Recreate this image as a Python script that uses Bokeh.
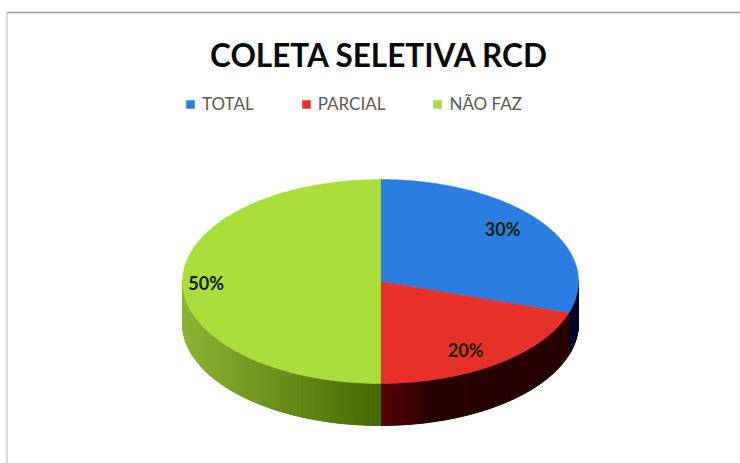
import numpy as np
from bokeh.plotting import figure
from bokeh.models import Range1d, Legend, LegendItem
from bokeh.core.properties import value
from bokeh.embed import file_html
from bokeh.resources import INLINE

title = "COLETA SELETIVA RCD"
categories = ["TOTAL", "PARCIAL", "NÃO FAZ"]
shares = [30, 20, 50]
top_colors = ["#2b7de1", "#e8302a", "#aade3c"]

W, H = 740, 463
CX, CY, RX, RY, DEPTH = 380, 281, 198, 102, 42
label_offsets = [(-6, -5), (-8, 2), (-16, 1)]


def lerp(stops, t):
    xs = [s[0] for s in stops]
    return "#%02x%02x%02x" % tuple(int(round(np.interp(t, xs, [s[1][i] for s in stops]))) for i in range(3))


wall_stops = [
    [(0, (0, 8, 60)), (1, (0, 4, 40))],
    [(0, (88, 0, 0)), (0.25, (40, 0, 0)), (1, (40, 0, 0))],
    [(0, (70, 104, 0)), (1, (140, 180, 52))],
]

p = figure(width=W, height=H, output_backend="svg", toolbar_location=None,
           x_range=Range1d(0, W), y_range=Range1d(H, 0),
           min_border=0, outline_line_color=None, x_axis_type=None, y_axis_type=None)
p.grid.visible = False

edges = np.cumsum([0] + shares) / sum(shares) * 360.0


def ex(a):
    return CX + RX * np.sin(np.radians(a))


def ey(a):
    return CY - RY * np.cos(np.radians(a))


# side wall
for i in range(len(shares)):
    a0, a1 = max(edges[i], 90), min(edges[i + 1], 270)
    if a1 <= a0:
        continue
    grid = np.arange(a0, a1 + 0.01, 1.0)
    xs, ys, cols = [], [], []
    for u, v in zip(grid[:-1], grid[1:]):
        xs.append([ex(u), ex(v), ex(v), ex(u)])
        ys.append([ey(u), ey(v), ey(v) + DEPTH, ey(u) + DEPTH])
        t = abs((ex(u) + ex(v)) / 2 - CX) / RX
        cols.append(lerp(wall_stops[i], t))
    p.patches(xs, ys, fill_color=cols, line_color=cols, line_width=1)

# top faces
items = []
for i, name in enumerate(categories):
    arc = np.linspace(edges[i], edges[i + 1], 181)
    xs = [CX] + list(ex(arc))
    ys = [CY] + list(ey(arc))
    r = p.patch(xs, ys, fill_color=top_colors[i], line_color=top_colors[i], line_width=0.5)
    items.append(LegendItem(label=name, renderers=[r]))

# data labels
mids = (edges[:-1] + edges[1:]) / 2
lx = [CX + 0.8 * RX * np.sin(np.radians(m)) + o[0] for m, o in zip(mids, label_offsets)]
ly = [CY - 0.8 * RY * np.cos(np.radians(m)) + o[1] for m, o in zip(mids, label_offsets)]
p.text(lx, ly, text=[f"{s}%" for s in shares], text_font=value("Lato"), text_font_style="bold",
       text_font_size="18px", text_color="#14210a", text_align="center", text_baseline="middle")

# title
p.text([379], [54], text=[title], text_font=value("Lato"), text_font_style="bold",
       text_font_size="31.5px", text_color="#0a0a0a", text_align="center", text_baseline="middle")

# frame lines
p.line([6, W], [12, 12], line_color="#9a9a9a", line_width=1.5)
p.line([6.5, 6.5], [12, H], line_color="#d0d0d0", line_width=1.5)

legend = Legend(items=items, orientation="horizontal", location=(185, 349),
                glyph_width=10, glyph_height=10, label_standoff=7, spacing=47, padding=0, margin=0,
                border_line_color=None, background_fill_alpha=0,
                label_text_font="Lato", label_text_font_size="17px", label_text_color="#5a5a5a")
p.add_layout(legend, "center")

open("out.html", "w").write(file_html(p, INLINE))
